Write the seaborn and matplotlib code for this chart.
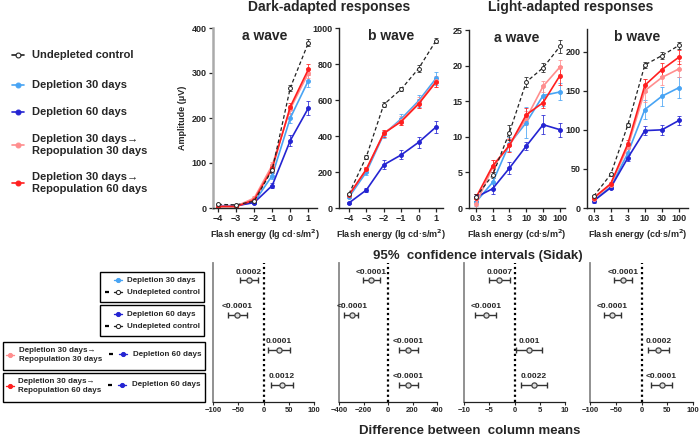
import matplotlib
matplotlib.use("Agg")
import matplotlib.pyplot as plt
import seaborn as sns
import pandas as pd
from matplotlib.lines import Line2D
from matplotlib.patches import Rectangle

# --- Data ---
groups = ["ctrl", "dep30", "dep60", "rep30", "rep60"]
group_labels = ["Undepleted control", "Depletion 30 days", "Depletion 60 days",
                "Depletion 30 days\u2192\nRepopulation 30 days",
                "Depletion 30 days\u2192\nRepopulation 60 days"]

da_x = [-4, -3, -2, -1, 0, 1]
la_ticklabels = ["0.3", "1", "3", "10", "30", "100"]
la_x = [0, 1, 2, 3, 4, 5]

# dark-adapted a wave
da_a_mean = {"ctrl": [8, 7, 15, 85, 267, 367], "dep30": [5, 5, 13, 72, 200, 283],
             "dep60": [5, 5, 12, 50, 150, 222], "rep30": [4, 4, 22, 95, 220, 300],
             "rep60": [3, 3, 18, 88, 225, 308]}
da_a_err = {"ctrl": [2, 2, 3, 8, 6, 8], "dep30": [1, 1, 2, 8, 12, 15],
            "dep60": [1, 1, 2, 6, 12, 15], "rep30": [2, 2, 4, 8, 10, 12],
            "rep60": [1, 1, 3, 8, 8, 12]}
# dark-adapted b wave
da_b_mean = {"ctrl": [78, 285, 575, 660, 775, 930], "dep30": [60, 200, 410, 495, 595, 720],
             "dep60": [28, 100, 240, 295, 365, 450], "rep30": [70, 215, 415, 485, 585, 705],
             "rep60": [72, 215, 415, 480, 578, 700]}
da_b_err = {"ctrl": [5, 10, 15, 12, 18, 15], "dep30": [5, 15, 20, 25, 35, 35],
            "dep60": [3, 10, 25, 25, 30, 35], "rep30": [5, 15, 20, 25, 30, 30],
            "rep60": [5, 15, 20, 20, 25, 25]}
# light-adapted a wave
la_a_mean = {"ctrl": [1.5, 4.6, 10.6, 17.7, 19.7, 22.7], "dep30": [0.8, 3.6, 9.0, 12.0, 15.8, 16.3],
             "dep60": [1.5, 2.7, 5.6, 8.7, 11.7, 11.0], "rep30": [0.5, 5.7, 8.8, 12.6, 17.1, 19.8],
             "rep60": [1.4, 5.9, 8.8, 13.1, 14.8, 18.6]}
la_a_err = {"ctrl": [0.5, 0.4, 1.0, 0.7, 0.6, 0.9], "dep30": [0.5, 1.0, 1.0, 2.2, 1.5, 1.2],
            "dep60": [0.5, 0.8, 0.8, 0.5, 1.3, 1.0], "rep30": [0.8, 1.0, 1.0, 1.0, 0.8, 1.0],
            "rep60": [0.6, 0.9, 0.9, 0.9, 0.8, 1.3]}
# light-adapted b wave
la_b_mean = {"ctrl": [15, 43, 106, 183, 195, 208], "dep30": [10, 27, 70, 126, 143, 154],
             "dep60": [9, 26, 64, 99, 100, 112], "rep30": [12, 30, 78, 150, 167, 178],
             "rep60": [13, 31, 82, 157, 177, 193]}
la_b_err = {"ctrl": [2, 2, 3, 4, 4, 4], "dep30": [2, 2, 6, 12, 12, 13],
            "dep60": [2, 2, 4, 6, 6, 6], "rep30": [2, 2, 6, 15, 10, 10],
            "rep60": [2, 2, 5, 8, 8, 9]}

# 95% CI (Sidak) of difference between column means, 4 comparisons per panel
ci_rows = [1, 2, 3, 4]
ci_mean = [[-28.7, -51.8, 30.7, 36.0], [-137, -295, 166, 166],
           [-3.0, -5.7, 2.9, 3.8], [-36, -57, 33, 39]]
ci_lo = [[-45.9, -69.6, 9.6, 14.2], [-201, -357, 91, 91],
         [-5.1, -7.9, 0.3, 1.2], [-53.5, -73, 12, 19]]
ci_hi = [[-10.2, -32.7, 53.1, 58.4], [-67, -242, 247, 247],
         [-0.8, -3.6, 5.4, 6.4], [-18, -39, 53, 59]]
ci_p = [["0.0002", "<0.0001", "0.0001", "0.0012"],
        ["<0.0001", "<0.0001", "<0.0001", "<0.0001"],
        ["0.0007", "<0.0001", "0.001", "0.0022"],
        ["<0.0001", "<0.0001", "0.0002", "<0.0001"]]

colors = {"ctrl": "#222222", "dep30": "#48a4f4", "dep60": "#2424d2",
          "rep30": "#ff8e8e", "rep60": "#ff1f1f"}

# --- Style ---
sns.set_theme(style="ticks")
plt.rcParams['font.family'] = ['Liberation Sans', 'DejaVu Sans']
plt.rcParams['font.weight'] = 'bold'
plt.rcParams['axes.labelweight'] = 'bold'
plt.rcParams['axes.titleweight'] = 'bold'
plt.rcParams['axes.unicode_minus'] = True

W, H = 700, 437
fig = plt.figure(figsize=(7, 4.37), dpi=100)


def box(l, t, r, b):
    return [l / W, 1 - b / H, (r - l) / W, (b - t) / H]


def fx(px):
    return px / W


def fy(py):
    return 1 - py / H


def style_top(ax):
    sns.despine(ax=ax)
    for s in ["left", "bottom"]:
        ax.spines[s].set_color("#222")
        ax.spines[s].set_linewidth(1.0)
    ax.tick_params(labelsize=6.5, length=3, width=0.9, pad=1.5)
    for lab in ax.get_xticklabels() + ax.get_yticklabels():
        lab.set_fontweight('bold')


def draw_panel(ax, xs, means, errs):
    for g in ["dep30", "dep60", "rep30", "rep60", "ctrl"]:
        df = pd.DataFrame({"x": xs, "amp": means[g]})
        ctrl = g == "ctrl"
        sns.lineplot(data=df, x="x", y="amp", ax=ax, color=colors[g], errorbar=None,
                     dashes=(3, 2) if ctrl else "", lw=0.9 if ctrl else 1.2,
                     marker="o", markersize=2.8, markeredgewidth=0.7,
                     markerfacecolor="white" if ctrl else colors[g],
                     markeredgecolor=colors[g], legend=False, zorder=3 if ctrl else 2)
        ax.errorbar(xs, means[g], yerr=errs[g], fmt="none", ecolor=colors[g],
                    elinewidth=0.7, capsize=1.5, capthick=0.7, alpha=0.8, zorder=1)
    ax.set_xlabel("")
    ax.set_ylabel("")


# --- Top panels ---
ax1 = fig.add_axes(box(213, 28, 317, 208))
ax2 = fig.add_axes(box(339, 28, 443, 208))
ax3 = fig.add_axes(box(469, 30, 565, 208))
ax4 = fig.add_axes(box(587, 29, 688, 208))

draw_panel(ax1, da_x, da_a_mean, da_a_err)
draw_panel(ax2, da_x, da_b_mean, da_b_err)
draw_panel(ax3, la_x, la_a_mean, la_a_err)
draw_panel(ax4, la_x, la_b_mean, la_b_err)

ax1.set_xlim(-4.28, 1.48)
ax1.set_ylim(0, 400)
ax1.set_yticks([0, 100, 200, 300, 400])
ax2.set_xlim(-4.57, 1.4)
ax2.set_ylim(0, 1000)
ax2.set_yticks([0, 200, 400, 600, 800, 1000])
for ax in (ax1, ax2):
    ax.set_xticks(da_x)
    ax.set_xticklabels(["\u22124", "\u22123", "\u22122", "\u22121", "0", "1"])
    ax.set_xlabel("Flash energy (lg cd\u00b7s/m$^\\mathbf{2}$)", fontsize=6.5, labelpad=3)
ax3.set_xlim(-0.4, 5.3)
ax3.set_ylim(0, 25)
ax3.set_yticks([0, 5, 10, 15, 20, 25])
ax4.set_xlim(-0.39, 5.53)
ax4.set_ylim(0, 229)
ax4.set_yticks([0, 50, 100, 150, 200])
for ax in (ax3, ax4):
    ax.set_xticks(la_x)
    ax.set_xticklabels(la_ticklabels)
    ax.set_xlabel("Flash energy (cd\u00b7s/m$^\\mathbf{2}$)", fontsize=6.5, labelpad=3)
ax1.set_ylabel("Amplitude (\u03bcV)", fontsize=6.5, labelpad=3)

for ax, t in zip((ax1, ax2, ax3, ax4), ["a wave", "b wave", "a wave", "b wave"]):
    style_top(ax)
    ax.text(0.5, 0.995, t, transform=ax.transAxes, ha="center", va="top",
            fontsize=10, fontweight="bold")
ax1.spines["left"].set_color("#aaaaaa")
ax1.spines["left"].set_linewidth(1.8)

fig.text(fx(329), fy(7), "Dark-adapted responses", ha="center", va="center",
         fontsize=10, fontweight="bold")
fig.text(fx(571), fy(7), "Light-adapted responses", ha="center", va="center",
         fontsize=10, fontweight="bold")

# --- Top-left legend ---
leg_rows = [55, 85, 112, 145, 183]
for g, lab, yy in zip(groups, group_labels, leg_rows):
    ctrl = g == "ctrl"
    fig.add_artist(Line2D([fx(12), fx(24)], [fy(yy), fy(yy)], color=colors[g],
                          lw=1.2, linestyle="-", transform=fig.transFigure))
    fig.add_artist(Line2D([fx(18)], [fy(yy)], marker="o", markersize=3.5,
                          markerfacecolor="white" if ctrl else colors[g],
                          markeredgecolor=colors[g], markeredgewidth=0.8,
                          transform=fig.transFigure))
    fig.text(fx(32), fy(yy), lab, ha="left", va="center", fontsize=8,
             fontweight="bold", linespacing=1.3)

# --- Bottom CI panels ---
bot_boxes = [(213, 263, 314, 402), (339, 263, 437, 402),
             (464, 263, 565, 402), (590, 263, 693, 402)]
bot_lims = [(-100, 100), (-400, 400), (-10, 10), (-100, 100)]
bot_ticks = [[-100, -50, 0, 50, 100], [-400, -200, 0, 200, 400],
             [-10, -5, 0, 5, 10], [-100, -50, 0, 50, 100]]

for i, bb in enumerate(bot_boxes):
    ax = fig.add_axes(box(*bb))
    ax.axvline(0, color="black", linestyle=(0, (1, 1.3)), lw=1.6, zorder=1)
    m, lo, hi = ci_mean[i], ci_lo[i], ci_hi[i]
    xerr = [[a - b for a, b in zip(m, lo)], [b - a for a, b in zip(m, hi)]]
    ax.errorbar(m, ci_rows, xerr=xerr, fmt="none", ecolor="#333", elinewidth=1.0,
                capsize=2, capthick=1.0, zorder=2)
    sns.scatterplot(x=m, y=ci_rows, ax=ax, s=14, color="#dddddd", edgecolor="#444",
                    linewidth=0.9, zorder=3, legend=False)
    for xm, yr, p in zip(m, ci_rows, ci_p[i]):
        ax.text(xm, yr - 0.14, p, ha="center", va="bottom", fontsize=6,
                fontweight="bold")
    ax.set_xlim(*bot_lims[i])
    ax.set_ylim(4.5, 0.5)
    ax.set_xticks(bot_ticks[i])
    ax.set_xticklabels([f"{t}".replace("-", "\u2212") for t in bot_ticks[i]])
    ax.set_yticks([])
    sns.despine(ax=ax)
    ax.spines["left"].set_color("#888888")
    ax.spines["left"].set_linewidth(1.3)
    ax.spines["bottom"].set_color("#222")
    ax.spines["bottom"].set_linewidth(0.9)
    ax.tick_params(axis="x", labelsize=5.5, length=2.5, width=0.8, pad=1)
    for lab in ax.get_xticklabels():
        lab.set_fontweight("bold")

fig.text(fx(478), fy(256), "95%  confidence intervals (Sidak)", ha="center",
         va="center", fontsize=9.5, fontweight="bold")
fig.text(fx(470), fy(431), "Difference between  column means", ha="center",
         va="center", fontsize=9.5, fontweight="bold")


# --- Bottom-left comparison boxes ---
def leg_mark(x, y, g):
    ctrl = g == "ctrl"
    fig.add_artist(Line2D([fx(x - 4), fx(x + 4)], [fy(y), fy(y)], color=colors[g],
                          lw=1.0, transform=fig.transFigure))
    fig.add_artist(Line2D([fx(x)], [fy(y)], marker="o", markersize=3,
                          markerfacecolor="white" if ctrl else colors[g],
                          markeredgecolor=colors[g], markeredgewidth=0.7,
                          transform=fig.transFigure))


def leg_dash(x, y):
    fig.add_artist(Line2D([fx(x - 2), fx(x + 2)], [fy(y), fy(y)], color="black",
                          lw=1.6, solid_capstyle="butt", transform=fig.transFigure))


def frame(l, t, r, b):
    fig.add_artist(Rectangle((fx(l), fy(b)), (r - l) / W, (b - t) / H, fill=False,
                             edgecolor="black", lw=1.0, transform=fig.transFigure))


fs_box = 5.8
frame(100, 272, 204, 302)
leg_mark(118, 280, "dep30")
fig.text(fx(127), fy(280), "Depletion 30 days", fontsize=fs_box, va="center", fontweight="bold")
leg_dash(107, 292)
leg_mark(118, 292, "ctrl")
fig.text(fx(127), fy(292), "Undepleted control", fontsize=fs_box, va="center", fontweight="bold")

frame(100, 305, 204, 336)
leg_mark(118, 314, "dep60")
fig.text(fx(127), fy(314), "Depletion 60 days", fontsize=fs_box, va="center", fontweight="bold")
leg_dash(107, 326)
leg_mark(118, 326, "ctrl")
fig.text(fx(127), fy(326), "Undepleted control", fontsize=fs_box, va="center", fontweight="bold")

frame(3, 342, 205, 370)
leg_mark(10, 355, "rep30")
fig.text(fx(19), fy(355), group_labels[3], fontsize=fs_box, va="center",
         fontweight="bold", linespacing=1.25)
leg_dash(111, 354)
leg_mark(123, 354, "dep60")
fig.text(fx(133), fy(354), "Depletion 60 days", fontsize=fs_box, va="center", fontweight="bold")

frame(3, 373, 205, 402)
leg_mark(10, 386, "rep60")
fig.text(fx(18), fy(386), group_labels[4], fontsize=fs_box, va="center",
         fontweight="bold", linespacing=1.25)
leg_dash(110, 385)
leg_mark(122, 385, "dep60")
fig.text(fx(132), fy(385), "Depletion 60 days", fontsize=fs_box, va="center", fontweight="bold")

fig.savefig("out.png", dpi=100)
